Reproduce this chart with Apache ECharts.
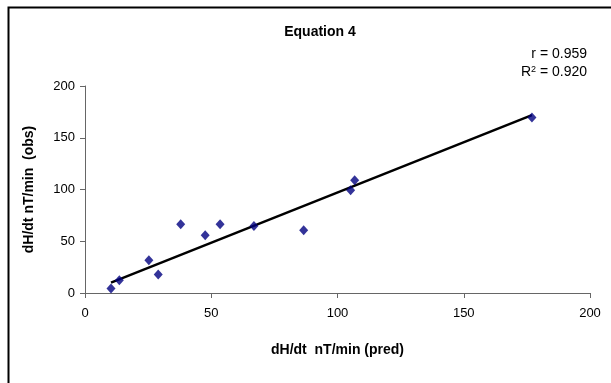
<!DOCTYPE html>
<html>
<head>
<meta charset="utf-8">
<script src="https://cdn.jsdelivr.net/npm/echarts@6/dist/echarts.min.js"></script>
<style>html,body{margin:0;padding:0;background:#fff}#c{width:611px;height:383px}</style>
</head>
<body>
<div id="c"></div>
<script>
const xPred = [10.3, 13.6, 25.3, 29.0, 37.9, 47.6, 53.5, 66.9, 86.6, 105.2, 106.8, 177.0];
const yObs  = [4.3, 12.3, 31.6, 17.8, 66.4, 55.8, 66.4, 64.8, 60.6, 99.3, 109.0, 169.6];
const xTicks = [0, 50, 100, 150, 200];
const yTicks = [0, 50, 100, 150, 200];
const titleText = 'Equation 4';
const xTitle = 'dH/dt  nT/min (pred)';
const yTitle = 'dH/dt nT/min  (obs)';
const rText = 'r = 0.959';
const r2Value = '0.920';

// trendline through origin (least squares, intercept fixed at 0)
let sxy = 0, sxx = 0;
for (let i = 0; i < xPred.length; i++) { sxy += xPred[i] * yObs[i]; sxx += xPred[i] * xPred[i]; }
const slope = sxy / sxx;
const xmin = Math.min(...xPred), xmax = Math.max(...xPred);
const trend = [[xmin, slope * xmin], [xmax, slope * xmax]];

const font = '"Liberation Sans", Arial, sans-serif';
const chart = echarts.init(document.getElementById('c'), null, {renderer: 'canvas'});
chart.setOption({
  animation: false,
  backgroundColor: '#fff',
  grid: {left: 85, right: 21, top: 86, bottom: 90, containLabel: false},
  xAxis: {
    type: 'value', min: xTicks[0], max: xTicks[xTicks.length - 1], interval: 50,
    axisLine: {lineStyle: {color: '#666', width: 1}},
    axisTick: {show: true, inside: false, length: 5, lineStyle: {color: '#666'}},
    splitLine: {show: false},
    axisLabel: {fontFamily: font, fontSize: 13, color: '#000', margin: 14},
    name: xTitle, nameLocation: 'middle', nameGap: 50,
    nameTextStyle: {fontFamily: font, fontSize: 14, fontWeight: 'bold', color: '#000'}
  },
  yAxis: {
    type: 'value', min: yTicks[0], max: yTicks[yTicks.length - 1], interval: 50,
    axisLine: {show: true, lineStyle: {color: '#666', width: 1}},
    axisTick: {show: true, inside: false, length: 5, lineStyle: {color: '#666'}},
    splitLine: {show: false},
    axisLabel: {fontFamily: font, fontSize: 13, color: '#000', margin: 10},
    name: yTitle, nameLocation: 'middle', nameGap: 49, nameRotate: 90,
    nameTextStyle: {fontFamily: font, fontSize: 14, fontWeight: 'bold', color: '#000'}
  },
  graphic: [
    {type: 'rect', left: 6, top: 5, shape: {width: 700, height: 500}, style: {fill: 'none', stroke: '#000', lineWidth: 2}, silent: true, z: 100},
    {type: 'text', x: 320, y: 32, style: {text: titleText, font: 'bold 14px ' + font, fill: '#000', textAlign: 'center', textVerticalAlign: 'middle'}},
    {type: 'text', x: 587, y: 54, style: {text: rText, font: '14px ' + font, fill: '#000', textAlign: 'right', textVerticalAlign: 'middle'}},
    {type: 'text', x: 587, y: 72, style: {
      text: '{b|R}{s|2}{b| = ' + r2Value + '}', textAlign: 'right', textVerticalAlign: 'middle',
      rich: {b: {fontFamily: font, fontSize: 14, color: '#000'}, s: {fontFamily: font, fontSize: 9, verticalAlign: 'top', color: '#000', padding: [0, 0, 5, 0]}}
    }}
  ],
  series: [
    {type: 'line', data: trend, symbol: 'none', lineStyle: {color: '#000', width: 2.5}, z: 2},
    {type: 'scatter', data: xPred.map((x, i) => [x, yObs[i]]), symbol: 'diamond', symbolSize: [9, 10],
     itemStyle: {color: '#000080'}, z: 3}
  ]
});
</script>
</body>
</html>
